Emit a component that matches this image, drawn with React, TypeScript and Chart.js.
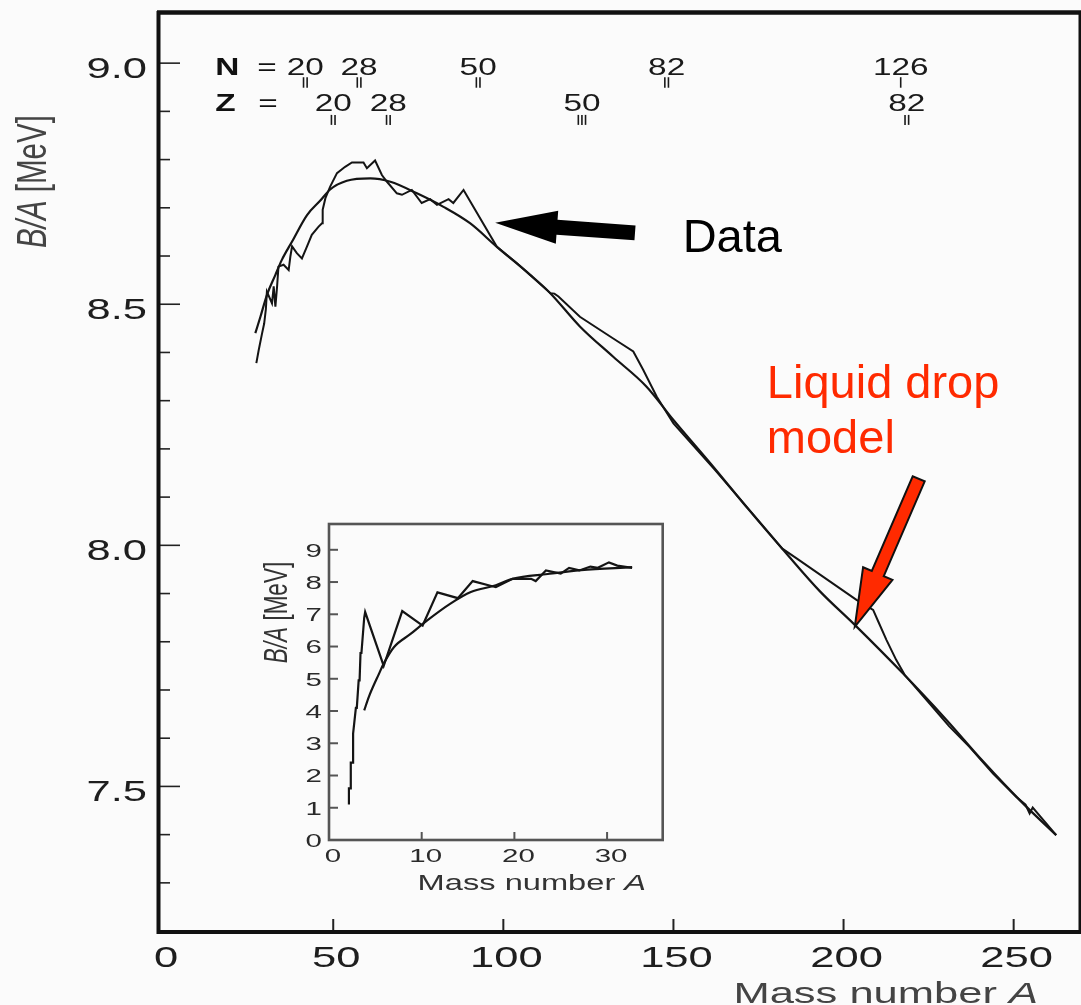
import React, { useEffect, useRef } from 'react';
import { Chart, registerables } from 'chart.js';

Chart.register(...registerables);

const FONT = '"Liberation Sans", Arial, Helvetica, sans-serif';
const BG = '#fbfbfb';
const STRETCH = 1.45;

// ---- Main plot: measured binding energy per nucleon (Data) ----
const dataMassNumber = [
  27.4, 28.1, 29.1, 29.7, 30.2, 30.5, 32.0, 32.5, 33.0, 33.5, 33.9, 35.4, 36.9, 37.4, 37.9,
  39.3, 40.8, 42.3, 43.7, 45.7, 46.7, 46.9, 47.7, 49.1, 51.1, 53.5, 55.5, 58.9, 59.9, 62.3,
  64.3, 65.8, 68.7, 70.2, 73.1, 76.0, 78.5, 80.5, 83.9, 85.3, 88.3, 98.1, 104, 110, 113.8,
  115.0, 116.2, 122.5, 132.3, 138.2, 141.1, 145.1, 150, 162, 173, 182, 186.2, 203.8, 208.7,
  210.2, 212.6, 215.5, 218, 225.3, 231, 237, 244, 250.8, 253.5, 254.7, 255.6, 262.5,
];
const dataBindingPerNucleon = [
  8.378, 8.405, 8.44, 8.46, 8.49, 8.526, 8.502, 8.537, 8.495, 8.537, 8.578, 8.582, 8.571, 8.599, 8.62,
  8.606, 8.595, 8.62, 8.644, 8.661, 8.668, 8.696, 8.72, 8.744, 8.772, 8.785, 8.794, 8.794, 8.782, 8.798,
  8.768, 8.754, 8.73, 8.727, 8.737, 8.71, 8.718, 8.706, 8.718, 8.71, 8.737, 8.619, 8.585, 8.547, 8.523,
  8.522, 8.516, 8.474, 8.429, 8.402, 8.364, 8.308, 8.253, 8.158, 8.068, 7.993, 7.973, 7.887, 7.866,
  7.842, 7.804, 7.762, 7.731, 7.672, 7.625, 7.582, 7.526, 7.478, 7.462, 7.444, 7.456, 7.399,
];

// ---- Main plot: liquid drop model curve ----
const modelMassNumber = [
  27.1, 28.6, 30.5, 33.0, 34.9, 37.9, 42.3, 46.2, 49.1, 54.0, 60.9, 66.8, 74.6, 82.4, 90.2,
  98.1, 107.9, 113.8, 122.5, 132.3, 142.1, 150.0, 161.7, 172, 183.2, 193, 203.3, 217.5, 230, 241, 252, 262.5,
];
const modelBindingPerNucleon = [
  8.44, 8.474, 8.519, 8.561, 8.592, 8.63, 8.685, 8.715, 8.738, 8.756, 8.761, 8.754, 8.73, 8.702, 8.668,
  8.619, 8.561, 8.523, 8.454, 8.391, 8.329, 8.26, 8.163, 8.075, 7.983, 7.905, 7.835, 7.734, 7.64, 7.552, 7.47, 7.399,
];

// ---- Inset: light nuclei ----
const insetDataMassNumber = [
  2.15, 2.15, 2.35, 2.35, 2.6, 2.6, 2.9, 3.0, 3.2, 3.3, 3.4, 3.5, 3.8, 3.9, 5.9, 7.9, 10.1, 11.7,
  13.9, 15.5, 18.0, 19.8, 21.8, 22.3, 23.4, 25.0, 25.9, 27.0, 28.2, 29.0, 30.2, 31.1, 32.7,
];
const insetDataBinding = [
  1.1, 1.6, 1.6, 2.4, 2.4, 3.3, 4.1, 4.1, 4.95, 4.95, 5.8, 5.8, 6.9, 7.07, 5.4, 7.1, 6.65, 7.68,
  7.5, 8.03, 7.84, 8.1, 8.1, 8.03, 8.36, 8.26, 8.44, 8.36, 8.48, 8.44, 8.61, 8.51, 8.44,
];
const insetModelMassNumber = [3.8, 4.3, 5.4, 5.9, 7.0, 8.8, 10.6, 13.1, 15.3, 18.0, 19.8, 23.6, 27.2, 32.7];
const insetModelBinding = [4.02, 4.44, 5.16, 5.47, 5.98, 6.39, 6.81, 7.33, 7.69, 7.9, 8.1, 8.25, 8.37, 8.46];

// ---- Tick values ----
const mainXTicks = [0, 50, 100, 150, 200, 250];
const mainYMajorTicks = [7.5, 8.0, 8.5, 9.0];
const mainYMinorTicks = [7.3, 7.4, 7.6, 7.7, 7.8, 7.9, 8.1, 8.2, 8.3, 8.4, 8.6, 8.7, 8.8, 8.9];
const insetXTicks = [0, 10, 20, 30];
const insetYTicks = [0, 1, 2, 3, 4, 5, 6, 7, 8, 9];

// ---- Magic numbers (label, mass number where marked, number of bars) ----
const magicNLabels = ['20', '28', '50', '82', '126'];
const magicNMass = [41.8, 57.6, 92.6, 148, 216.8];
const magicNBars = [2, 2, 2, 2, 1];
const magicZLabels = ['20', '28', '50', '82'];
const magicZMass = [50, 66.2, 123.1, 218.6];
const magicZBars = [2, 2, 3, 2];

const toPoints = (xs: number[], ys: number[]) => xs.map((x, i) => ({ x, y: ys[i] }));

type Seg = { t: string; italic?: boolean; bold?: boolean };

function drawRich(
  ctx: CanvasRenderingContext2D,
  segs: Seg[],
  x: number,
  y: number,
  size: number,
  sx: number,
  align: 'left' | 'center' | 'right',
  color: string,
  rotated = false,
) {
  ctx.save();
  ctx.translate(x, y);
  ctx.scale(sx, 1);
  if (rotated) ctx.rotate(-Math.PI / 2);
  const fonts = segs.map((s) => `${s.italic ? 'italic ' : ''}${s.bold ? 'bold ' : ''}${size}px ${FONT}`);
  let total = 0;
  const widths = segs.map((s, i) => {
    ctx.font = fonts[i];
    const w = ctx.measureText(s.t).width;
    total += w;
    return w;
  });
  let start = align === 'center' ? -total / 2 : align === 'right' ? -total : 0;
  ctx.fillStyle = color;
  ctx.textAlign = 'left';
  ctx.textBaseline = 'alphabetic';
  segs.forEach((s, i) => {
    ctx.font = fonts[i];
    ctx.fillText(s.t, start, 0);
    start += widths[i];
  });
  ctx.restore();
}

function line(ctx: CanvasRenderingContext2D, x0: number, y0: number, x1: number, y1: number) {
  ctx.beginPath();
  ctx.moveTo(x0, y0);
  ctx.lineTo(x1, y1);
  ctx.stroke();
}

function arrow(
  ctx: CanvasRenderingContext2D,
  tx: number,
  ty: number,
  hx: number,
  hy: number,
  shaftW: number,
  headW: number,
  headL: number,
  fill: string,
  stroke: string | null,
) {
  const dx = hx - tx;
  const dy = hy - ty;
  const len = Math.hypot(dx, dy);
  const ux = dx / len;
  const uy = dy / len;
  const nx = -uy;
  const ny = ux;
  const bx = hx - ux * headL;
  const by = hy - uy * headL;
  ctx.beginPath();
  ctx.moveTo(tx + (nx * shaftW) / 2, ty + (ny * shaftW) / 2);
  ctx.lineTo(bx + (nx * shaftW) / 2, by + (ny * shaftW) / 2);
  ctx.lineTo(bx + (nx * headW) / 2, by + (ny * headW) / 2);
  ctx.lineTo(hx, hy);
  ctx.lineTo(bx - (nx * headW) / 2, by - (ny * headW) / 2);
  ctx.lineTo(bx - (nx * shaftW) / 2, by - (ny * shaftW) / 2);
  ctx.lineTo(tx - (nx * shaftW) / 2, ty - (ny * shaftW) / 2);
  ctx.closePath();
  ctx.fillStyle = fill;
  ctx.fill();
  if (stroke) {
    ctx.strokeStyle = stroke;
    ctx.lineWidth = 2;
    ctx.lineJoin = 'miter';
    ctx.stroke();
  }
}

const mainDecor = {
  id: 'mainDecor',
  beforeDraw(chart: any) {
    const ctx = chart.ctx;
    ctx.save();
    ctx.fillStyle = BG;
    ctx.fillRect(0, 0, chart.width, chart.height);
    ctx.restore();
  },
  afterDraw(chart: any) {
    const { ctx, chartArea: a } = chart;
    const xs = chart.scales.x;
    const ys = chart.scales.y;
    ctx.save();

    // ticks (inward)
    ctx.strokeStyle = '#222';
    ctx.lineWidth = 1.6;
    for (const v of mainYMajorTicks) {
      const py = ys.getPixelForValue(v);
      line(ctx, a.left, py, a.left + 23, py);
    }
    for (const v of mainYMinorTicks) {
      const py = ys.getPixelForValue(v);
      line(ctx, a.left, py, a.left + 13, py);
    }
    ctx.lineWidth = 2;
    for (const v of mainXTicks) {
      if (v === 0) continue;
      const px = xs.getPixelForValue(v);
      line(ctx, px, a.bottom, px, a.bottom - 14);
    }

    // frame
    ctx.strokeStyle = '#111';
    ctx.lineWidth = 4;
    line(ctx, a.left + 1.5, a.top - 2, a.left + 1.5, a.bottom + 1);
    line(ctx, a.left, a.bottom - 1, a.right + 2, a.bottom - 1);
    ctx.lineWidth = 4.5;
    line(ctx, a.left, a.top - 0.5, a.right + 2, a.top - 0.5);
    ctx.lineWidth = 3;
    line(ctx, a.right, a.top, a.right, a.bottom);

    // tick labels
    for (const v of mainYMajorTicks) {
      const py = ys.getPixelForValue(v);
      drawRich(ctx, [{ t: v.toFixed(1) }], a.left - 10, py + 15, 30, STRETCH, 'right', '#1e1e1e');
    }
    for (const v of mainXTicks) {
      const px = xs.getPixelForValue(v);
      drawRich(ctx, [{ t: String(v) }], px + 3, a.bottom + 34, 30, STRETCH, 'center', '#1e1e1e');
    }

    // axis titles
    drawRich(ctx, [{ t: 'Mass number ' }, { t: 'A', italic: true }], a.right - 42, 1003, 30, STRETCH, 'right', '#444');
    drawRich(ctx, [{ t: 'B/A', italic: true }, { t: ' [MeV]' }], 46, 181.5, 29.5, STRETCH, 'center', '#444', true);

    // magic numbers
    const rowN = ys.getPixelForValue(8.976);
    const rowZ = ys.getPixelForValue(8.901);
    const labelX = xs.getPixelForValue(15.35);
    const eqX = xs.getPixelForValue(27.7);
    drawRich(ctx, [{ t: 'N', bold: true }], labelX, rowN, 23, STRETCH, 'left', '#111');
    drawRich(ctx, [{ t: '=' }], eqX, rowN, 23, STRETCH, 'left', '#111');
    drawRich(ctx, [{ t: 'Z', bold: true }], labelX, rowZ, 23, STRETCH, 'left', '#111');
    drawRich(ctx, [{ t: '=' }], eqX + 1, rowZ, 23, STRETCH, 'left', '#111');
    const drawMagic = (labels: string[], masses: number[], bars: number[], row: number, top: number, bottom: number) => {
      labels.forEach((lab, i) => {
        const px = xs.getPixelForValue(masses[i]);
        drawRich(ctx, [{ t: lab }], px, row, 23, STRETCH, 'center', '#1a1a1a');
        ctx.strokeStyle = '#1a1a1a';
        ctx.lineWidth = 1.6;
        const n = bars[i];
        for (let k = 0; k < n; k++) {
          const bx = px + (k - (n - 1) / 2) * 3.6;
          line(ctx, bx, row + top, bx, row + bottom);
        }
      });
    };
    drawMagic(magicNLabels, magicNMass, magicNBars, rowN, 2.5, 13);
    drawMagic(magicZLabels, magicZMass, magicZBars, rowZ, 4, 14);

    // annotation: Data arrow
    arrow(
      ctx,
      xs.getPixelForValue(138.7),
      ys.getPixelForValue(8.648),
      xs.getPixelForValue(97.6),
      ys.getPixelForValue(8.669),
      15,
      33,
      62,
      '#000',
      null,
    );
    ctx.font = `47px ${FONT}`;
    ctx.fillStyle = '#000';
    ctx.textAlign = 'left';
    ctx.textBaseline = 'alphabetic';
    ctx.fillText('Data', xs.getPixelForValue(152.7), ys.getPixelForValue(8.6085));

    // annotation: Liquid drop model arrow
    arrow(
      ctx,
      xs.getPixelForValue(222.1),
      ys.getPixelForValue(8.138),
      xs.getPixelForValue(203.3),
      ys.getPixelForValue(7.831),
      13,
      32,
      58,
      '#ff2a00',
      '#111',
    );
    ctx.fillStyle = '#ff2a00';
    ctx.font = `47px ${FONT}`;
    ctx.fillText('Liquid drop', xs.getPixelForValue(177.45), ys.getPixelForValue(8.3056));
    ctx.fillText('model', xs.getPixelForValue(177.45), ys.getPixelForValue(8.1915));

    ctx.restore();
  },
};

const insetDecor = {
  id: 'insetDecor',
  afterDraw(chart: any) {
    const { ctx, chartArea: a } = chart;
    const xs = chart.scales.x;
    const ys = chart.scales.y;
    ctx.save();
    ctx.strokeStyle = '#555';
    ctx.lineWidth = 2;
    for (const v of insetYTicks) {
      if (v === 0) continue;
      const py = ys.getPixelForValue(v);
      line(ctx, a.left, py, a.left + 9, py);
    }
    for (const v of insetXTicks) {
      if (v === 0) continue;
      const px = xs.getPixelForValue(v);
      line(ctx, px, a.bottom, px, a.bottom - 8);
    }
    ctx.lineWidth = 2.6;
    ctx.strokeRect(a.left, a.top, a.right - a.left, a.bottom - a.top);

    for (const v of insetYTicks) {
      const py = ys.getPixelForValue(v);
      drawRich(ctx, [{ t: String(v) }], a.left - 7, py + 6.8, 19, 1.55, 'right', '#2a2a2a');
    }
    for (const v of insetXTicks) {
      const px = xs.getPixelForValue(v);
      drawRich(ctx, [{ t: String(v) }], px + 4, a.bottom + 22, 19, 1.55, 'center', '#2a2a2a');
    }
    drawRich(
      ctx,
      [{ t: 'Mass number ' }, { t: 'A', italic: true }],
      (a.left + a.right) / 2 + 36,
      a.bottom + 50,
      22.5,
      STRETCH,
      'center',
      '#333',
    );
    drawRich(
      ctx,
      [{ t: 'B/A', italic: true }, { t: ' [MeV]' }],
      a.left - 42.5,
      (a.top + a.bottom) / 2 - 69.5,
      22.5,
      STRETCH,
      'center',
      '#333',
      true,
    );
    ctx.restore();
  },
};

export default function App() {
  const mainRef = useRef<HTMLCanvasElement>(null);
  const insetRef = useRef<HTMLCanvasElement>(null);

  useEffect(() => {
    const lineStyle = { showLine: true, pointRadius: 0, borderColor: '#141414', fill: false };
    const main = new Chart(mainRef.current as HTMLCanvasElement, {
      type: 'scatter',
      data: {
        datasets: [
          {
            label: 'Liquid drop model',
            data: toPoints(modelMassNumber, modelBindingPerNucleon),
            ...lineStyle,
            borderWidth: 2.2,
            cubicInterpolationMode: 'monotone',
          } as any,
          {
            label: 'Data',
            data: toPoints(dataMassNumber, dataBindingPerNucleon),
            ...lineStyle,
            borderWidth: 2,
            tension: 0,
          } as any,
        ],
      },
      options: {
        responsive: false,
        animation: false,
        devicePixelRatio: 1,
        layout: { padding: { top: 13, right: 1, left: 0, bottom: 0 } },
        plugins: { legend: { display: false }, tooltip: { enabled: false } },
        scales: {
          x: {
            type: 'linear',
            min: -1.8,
            max: 269.5,
            grid: { display: false },
            border: { display: false },
            ticks: { display: false },
            afterFit: (s: any) => {
              s.height = 72;
            },
          },
          y: {
            type: 'linear',
            min: 7.196,
            max: 9.104,
            grid: { display: false },
            border: { display: false },
            ticks: { display: false },
            afterFit: (s: any) => {
              s.width = 157;
            },
          },
        },
      } as any,
      plugins: [mainDecor],
    });

    const inset = new Chart(insetRef.current as HTMLCanvasElement, {
      type: 'scatter',
      data: {
        datasets: [
          {
            label: 'Liquid drop model',
            data: toPoints(insetModelMassNumber, insetModelBinding),
            ...lineStyle,
            borderWidth: 2.2,
            cubicInterpolationMode: 'monotone',
          } as any,
          {
            label: 'Data',
            data: toPoints(insetDataMassNumber, insetDataBinding),
            ...lineStyle,
            borderWidth: 2.2,
            tension: 0,
          } as any,
        ],
      },
      options: {
        responsive: false,
        animation: false,
        devicePixelRatio: 1,
        layout: { padding: { top: 19, right: 17.3, left: 0, bottom: 0 } },
        plugins: { legend: { display: false }, tooltip: { enabled: false } },
        scales: {
          x: {
            type: 'linear',
            min: 0,
            max: 36,
            grid: { display: false },
            border: { display: false },
            ticks: { display: false },
            afterFit: (s: any) => {
              s.height = 65;
            },
          },
          y: {
            type: 'linear',
            min: 0,
            max: 9.8,
            grid: { display: false },
            border: { display: false },
            ticks: { display: false },
            afterFit: (s: any) => {
              s.width = 79;
            },
          },
        },
      } as any,
      plugins: [insetDecor],
    });

    return () => {
      main.destroy();
      inset.destroy();
    };
  }, []);

  return (
    <div style={{ position: 'fixed', left: 0, top: 0, width: 1081, height: 1005, background: BG, overflow: 'hidden' }}>
      <canvas
        ref={mainRef}
        width={1081}
        height={1005}
        style={{ position: 'absolute', left: 0, top: 0, width: 1081, height: 1005 }}
      />
      <canvas
        ref={insetRef}
        width={430}
        height={400}
        style={{ position: 'absolute', left: 250, top: 505, width: 430, height: 400 }}
      />
    </div>
  );
}
